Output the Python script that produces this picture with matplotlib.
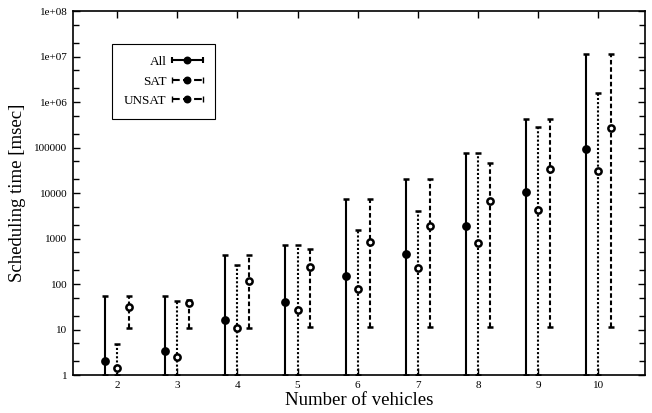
import numpy as np
import matplotlib
matplotlib.use('Agg')
import matplotlib.pyplot as plt
from matplotlib.lines import Line2D
from matplotlib.legend_handler import HandlerBase
from matplotlib.ticker import FixedLocator, LogLocator, NullFormatter

plt.rcParams['font.family'] = ['Liberation Serif', 'DejaVu Serif']

vehicles = [2, 3, 4, 5, 6, 7, 8, 9, 10]

all_mean = [2.0, 3.4, 16, 41, 150, 450, 1880, 10700, 93000]
all_min = [1, 1, 1, 1, 1, 1, 1, 1, 1]
all_max = [55, 55, 435, 720, 7250, 20000, 78000, 425000, 1.13e7]

sat_mean = [1.4, 2.45, 11, 27, 76, 228, 780, 4230, 30500]
sat_min = [1, 1, 1, 1, 1, 1, 1, 1, 1]
sat_max = [4.7, 42, 260, 720, 1540, 4000, 78000, 285000, 1.6e6]

unsat_mean = [32, 39, 117, 234, 820, 1910, 6800, 33000, 263000]
unsat_min = [11, 11, 11, 11.5, 11.5, 11.5, 11.5, 11.5, 11.5]
unsat_max = [55, 45, 435, 600, 7250, 20000, 46500, 425000, 1.13e7]

ytick_vals = [1, 10, 100, 1000, 10000, 100000, 1e6, 1e7, 1e8]
ytick_labels = ['1', '10', '100', '1000', '10000', '100000', '1e+06', '1e+07', '1e+08']

series = [
    ('All', all_mean, all_min, all_max, -0.2, '-', 'black'),
    ('SAT', sat_mean, sat_min, sat_max, 0.0, (0, (1, 1)), 'white'),
    ('UNSAT', unsat_mean, unsat_min, unsat_max, 0.2, (0, (2.2, 1.3)), 'white'),
]


class HErrHandler(HandlerBase):
    # horizontal errorbar sample like gnuplot's key
    def create_artists(self, legend, orig, xd, yd, w, h, fontsize, trans):
        y = h / 2 - yd
        x0, x1 = -xd, w - xd
        ls = orig.get_linestyle()
        line = Line2D([x0, x1], [y, y], color='black', lw=1.5, ls=ls, transform=trans)
        caps = Line2D([x0, x1], [y, y], ls='none', marker='|', ms=5, mew=1.5 if ls == '-' else 1.0,
                      color='black', transform=trans)
        dot = Line2D([(x0 + x1) / 2], [y], ls='none', marker='o', ms=4.5, mfc='black',
                     mec='black', mew=1.2, transform=trans)
        return [line, caps, dot]


fig = plt.figure(figsize=(6.52, 4.13), dpi=100)
ax = fig.add_axes([0.112, 0.092, 0.877, 0.881])

x = np.array(vehicles, dtype=float)
handles = []
for name, mean, lo, hi, off, ls, mfc in series:
    mean = np.array(mean, dtype=float)
    yerr = [mean - np.array(lo), np.array(hi) - mean]
    eb = ax.errorbar(x + off, mean, yerr=yerr, fmt='o', color='black', ms=4.5, mfc=mfc, mec='black',
                     mew=1.8, elinewidth=1.5, capsize=2.3, capthick=1.5 if ls == '-' else 1.0)
    eb[2][0].set_linestyle(ls)
    handles.append(Line2D([], [], ls=ls, marker='o', mfc=mfc, color='black', label=name))

ax.set_yscale('log')
ax.set_xlim(1.27, 10.77)
ax.set_ylim(1, 1e8)
ax.set_xticks(vehicles)
ax.set_xticklabels([str(v) for v in vehicles])
ax.yaxis.set_major_locator(FixedLocator(ytick_vals))
ax.set_yticklabels(ytick_labels)
ax.yaxis.set_minor_locator(LogLocator(base=10, subs=(2.0, 5.0), numticks=20))
ax.yaxis.set_minor_formatter(NullFormatter())
ax.tick_params(which='both', direction='in', top=True, right=True, labelsize=8, width=1)
ax.tick_params(which='major', length=5, pad=4)
ax.tick_params(which='minor', length=4)
for s in ax.spines.values():
    s.set_linewidth(1.2)

ax.set_xlabel('Number of vehicles', fontsize=13.5, labelpad=2)
ax.set_ylabel('Scheduling time [msec]', fontsize=13.5, labelpad=6)

leg = ax.legend(handles=handles, handler_map={Line2D: HErrHandler()}, loc='upper left',
                bbox_to_anchor=(0.068, 0.91), borderaxespad=0, markerfirst=False, fancybox=False,
                edgecolor='black', framealpha=1, fontsize=9.5, handlelength=2.4, handletextpad=0.4,
                labelspacing=0.55, borderpad=0.9)
leg.get_frame().set_linewidth(0.8)

plt.savefig('out.png', dpi=100)
